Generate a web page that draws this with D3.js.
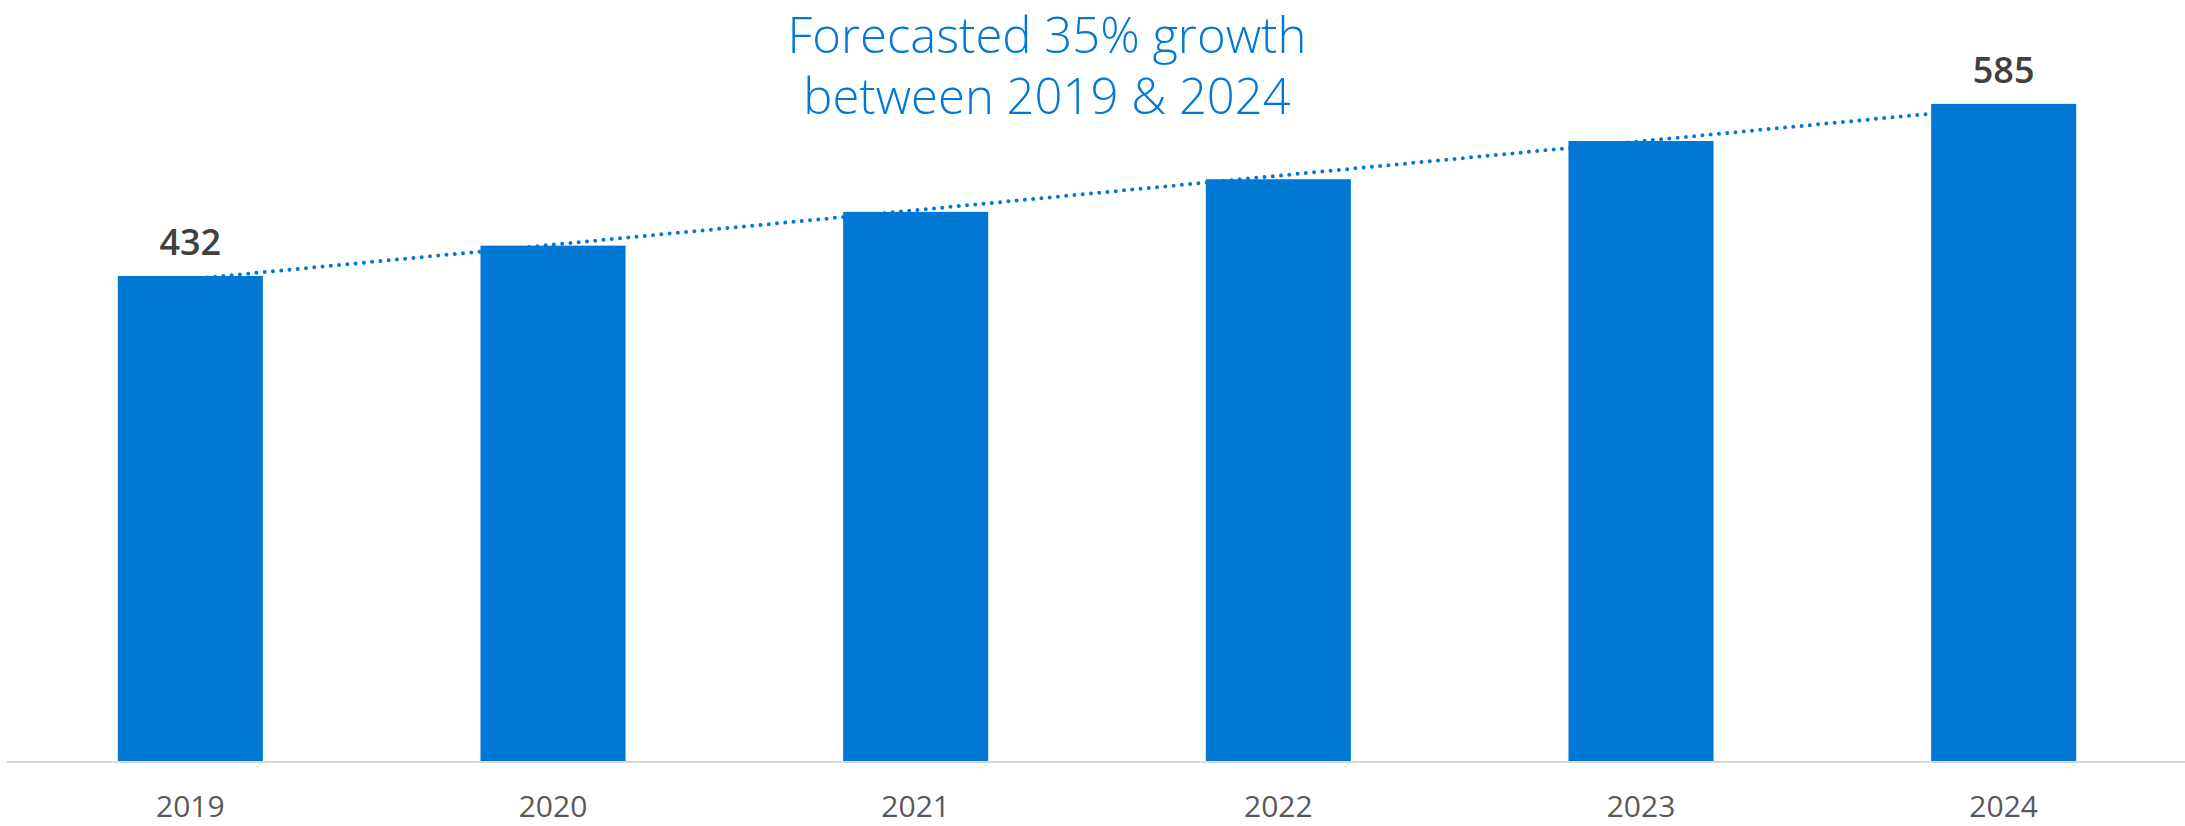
<!DOCTYPE html>
<html>
<head>
<meta charset="utf-8">
<script src="https://cdn.jsdelivr.net/npm/d3@7"></script>
<style>
  body { margin: 0; background: #fff; }
  text { font-family: "Segoe UI", "Open Sans", sans-serif; }
</style>
</head>
<body>
<div id="chart"></div>
<script>
const width = 2185,
  height = 826,
  margin = { top: 87, bottom: 64, left: 9, right: 0 };

const years = ["2019", "2020", "2021", "2022", "2023", "2024"];
const values = [432, 459, 489, 518, 552, 585];
const labelled = ["2019", "2024"];
const titleLines = ["Forecasted 35% growth", "between 2019 & 2024"];

const blue = "#0078d4";

const data = years.map((y, i) => ({ year: y, value: values[i] }));

const svg = d3
  .select("#chart")
  .append("svg")
  .attr("width", width)
  .attr("height", height);

const xScale = d3
  .scaleBand()
  .domain(years)
  .range([margin.left, width - margin.right])
  .paddingInner(0.6)
  .paddingOuter(0.3);

const yScale = d3
  .scaleLinear()
  .domain([0, 600])
  .range([height - margin.bottom, margin.top]);

// linear trendline (least squares over category index)
const n = values.length;
const meanX = (n - 1) / 2;
const meanY = d3.mean(values);
const slope =
  d3.sum(values, (v, i) => (i - meanX) * (v - meanY)) /
  d3.sum(values, (v, i) => (i - meanX) ** 2);
const intercept = meanY - slope * meanX;

const trend = [0, n - 1].map(i => ({
  x: xScale(years[i]) + xScale.bandwidth() / 2,
  y: yScale(intercept + slope * i)
}));

svg
  .append("path")
  .attr("class", "trend")
  .attr("d", d3.line().x(d => d.x).y(d => d.y)(trend))
  .attr("fill", "none")
  .attr("stroke", blue)
  .attr("stroke-width", 4)
  .attr("stroke-linecap", "round")
  .attr("stroke-dasharray", "0 8.3");

svg
  .selectAll(".bar")
  .data(data)
  .join("rect")
  .attr("class", "bar")
  .attr("x", d => xScale(d.year))
  .attr("width", xScale.bandwidth())
  .attr("y", d => yScale(d.value))
  .attr("height", d => yScale(0) - yScale(d.value))
  .attr("fill", blue);

// x axis
svg
  .append("g")
  .attr("class", "axis x-axis")
  .attr("transform", `translate(0,${yScale(0)})`)
  .call(d3.axisBottom(xScale).tickSize(0).tickSizeOuter(0))
  .call(g => g.select(".domain")
    .attr("d", `M7,0H${width}`)
    .attr("stroke", "#d9d9d9")
    .attr("stroke-width", 2))
  .call(g => g.selectAll("text")
    .attr("y", 55)
    .attr("dy", 0)
    .attr("fill", "#595959")
    .attr("font-size", 30)
    .attr("font-family", "'Segoe UI', 'Open Sans', sans-serif"));

svg
  .selectAll(".value-label")
  .data(data.filter(d => labelled.includes(d.year)))
  .join("text")
  .attr("class", "value-label")
  .attr("x", d => xScale(d.year) + xScale.bandwidth() / 2)
  .attr("y", d => yScale(d.value) - 21)
  .attr("text-anchor", "middle")
  .attr("fill", "#404040")
  .attr("font-size", 36)
  .attr("font-weight", 600)
  .text(d => d.value);

svg
  .selectAll(".title")
  .data(titleLines)
  .join("text")
  .attr("class", "title")
  .attr("x", 1047)
  .attr("y", (d, i) => 53 + i * 61)
  .attr("text-anchor", "middle")
  .attr("fill", blue)
  .attr("font-size", 49)
  .attr("font-weight", 300)
  .text(d => d);
</script>
</body>
</html>
